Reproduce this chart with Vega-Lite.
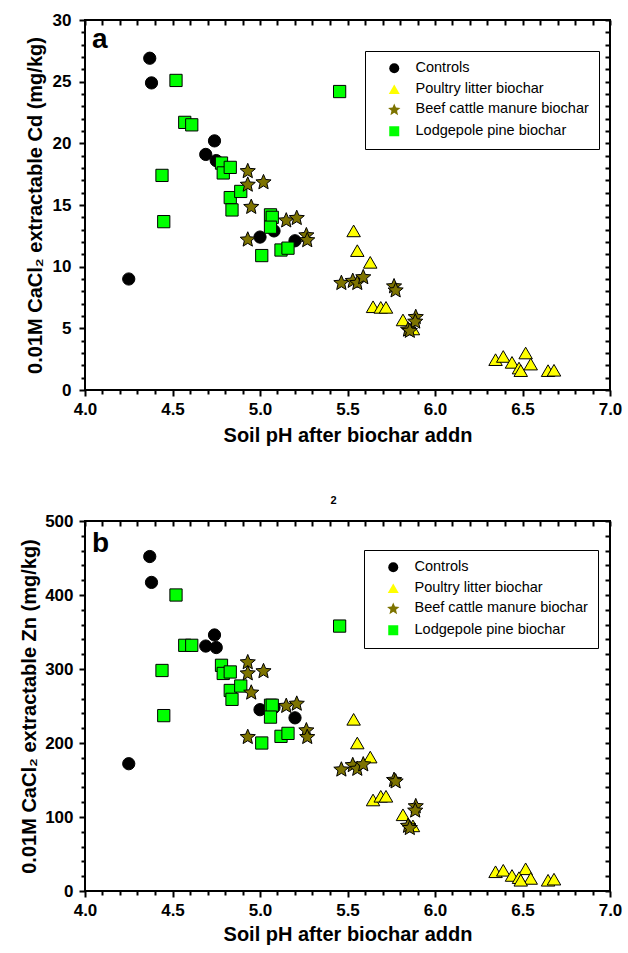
{
  "$schema": "https://vega.github.io/schema/vega-lite/v6.json",
  "padding": {"left": 18, "top": 10, "right": 10, "bottom": 3},
  "background": "white",
  "config": {
    "view": {"stroke": "black", "strokeWidth": 2},
    "font": "Liberation Sans",
    "axis": {"grid": false, "domain": false, "ticks": true, "tickOpacity": 1, "tickColor": "#000000", "labelColor": "black", "titleColor": "black", "labelFont": "Liberation Sans", "titleFont": "Liberation Sans", "labelFontWeight": "bold", "titleFontWeight": "bold", "labelFontSize": 17, "titleFontSize": 20, "labelOverlap": false, "labelFlush": false},
    "legend": {"title": null, "orient": "none", "strokeColor": "black", "fillColor": "white", "padding": 10, "symbolOffset": 12, "labelOffset": 14, "labelFontSize": 14.5, "labelFont": "Liberation Sans", "labelColor": "black", "labelLimit": 400, "rowPadding": 5, "symbolStrokeColor": "black", "symbolStrokeWidth": 1, "symbolOpacity": 1}
  },
  "data": {"values": [
    {"series": "Controls", "pH": 4.37, "Cd": 26.9, "Zn": 452},
    {"series": "Controls", "pH": 4.38, "Cd": 24.9, "Zn": 417},
    {"series": "Controls", "pH": 4.25, "Cd": 9.0, "Zn": 172},
    {"series": "Controls", "pH": 4.74, "Cd": 20.2, "Zn": 346},
    {"series": "Controls", "pH": 4.69, "Cd": 19.1, "Zn": 331},
    {"series": "Controls", "pH": 4.75, "Cd": 18.6, "Zn": 329},
    {"series": "Controls", "pH": 5.0, "Cd": 12.4, "Zn": 245},
    {"series": "Controls", "pH": 5.08, "Cd": 12.9, "Zn": 248},
    {"series": "Controls", "pH": 5.2, "Cd": 12.1, "Zn": 234},
    {"series": "Lodgepole pine biochar", "pH": 4.52, "Cd": 25.1, "Zn": 400},
    {"series": "Lodgepole pine biochar", "pH": 4.57, "Cd": 21.7, "Zn": 332},
    {"series": "Lodgepole pine biochar", "pH": 4.61, "Cd": 21.5, "Zn": 332},
    {"series": "Lodgepole pine biochar", "pH": 4.44, "Cd": 17.4, "Zn": 298},
    {"series": "Lodgepole pine biochar", "pH": 4.45, "Cd": 13.65, "Zn": 237},
    {"series": "Lodgepole pine biochar", "pH": 4.78, "Cd": 18.4, "Zn": 305},
    {"series": "Lodgepole pine biochar", "pH": 4.79, "Cd": 17.6, "Zn": 294},
    {"series": "Lodgepole pine biochar", "pH": 4.83, "Cd": 18.05, "Zn": 296},
    {"series": "Lodgepole pine biochar", "pH": 4.83, "Cd": 15.6, "Zn": 271},
    {"series": "Lodgepole pine biochar", "pH": 4.84, "Cd": 14.6, "Zn": 259},
    {"series": "Lodgepole pine biochar", "pH": 4.89, "Cd": 16.1, "Zn": 277},
    {"series": "Lodgepole pine biochar", "pH": 5.06, "Cd": 14.2, "Zn": 251},
    {"series": "Lodgepole pine biochar", "pH": 5.07, "Cd": 14.0, "Zn": 251},
    {"series": "Lodgepole pine biochar", "pH": 5.06, "Cd": 13.2, "Zn": 235},
    {"series": "Lodgepole pine biochar", "pH": 5.01, "Cd": 10.9, "Zn": 200},
    {"series": "Lodgepole pine biochar", "pH": 5.12, "Cd": 11.35, "Zn": 209},
    {"series": "Lodgepole pine biochar", "pH": 5.16, "Cd": 11.5, "Zn": 213},
    {"series": "Lodgepole pine biochar", "pH": 5.455, "Cd": 24.2, "Zn": 358},
    {"series": "Poultry litter biochar", "pH": 5.535, "Cd": 12.9, "Zn": 232},
    {"series": "Poultry litter biochar", "pH": 5.556, "Cd": 11.3, "Zn": 200},
    {"series": "Poultry litter biochar", "pH": 5.63, "Cd": 10.35, "Zn": 181},
    {"series": "Poultry litter biochar", "pH": 5.646, "Cd": 6.75, "Zn": 123},
    {"series": "Poultry litter biochar", "pH": 5.69, "Cd": 6.7, "Zn": 128},
    {"series": "Poultry litter biochar", "pH": 5.72, "Cd": 6.7, "Zn": 128},
    {"series": "Poultry litter biochar", "pH": 5.817, "Cd": 5.68, "Zn": 103},
    {"series": "Poultry litter biochar", "pH": 5.874, "Cd": 4.95, "Zn": 88},
    {"series": "Poultry litter biochar", "pH": 6.346, "Cd": 2.46, "Zn": 26},
    {"series": "Poultry litter biochar", "pH": 6.39, "Cd": 2.72, "Zn": 28},
    {"series": "Poultry litter biochar", "pH": 6.44, "Cd": 2.24, "Zn": 21},
    {"series": "Poultry litter biochar", "pH": 6.518, "Cd": 3.0, "Zn": 30},
    {"series": "Poultry litter biochar", "pH": 6.547, "Cd": 2.1, "Zn": 17},
    {"series": "Poultry litter biochar", "pH": 6.48, "Cd": 1.78, "Zn": 18},
    {"series": "Poultry litter biochar", "pH": 6.49, "Cd": 1.57, "Zn": 14.5},
    {"series": "Poultry litter biochar", "pH": 6.646, "Cd": 1.57, "Zn": 14.5},
    {"series": "Poultry litter biochar", "pH": 6.68, "Cd": 1.6, "Zn": 16},
    {"series": "Beef cattle manure biochar", "pH": 4.93, "Cd": 17.8, "Zn": 310},
    {"series": "Beef cattle manure biochar", "pH": 4.93, "Cd": 16.7, "Zn": 295},
    {"series": "Beef cattle manure biochar", "pH": 5.02, "Cd": 16.9, "Zn": 298},
    {"series": "Beef cattle manure biochar", "pH": 4.95, "Cd": 14.9, "Zn": 269},
    {"series": "Beef cattle manure biochar", "pH": 4.93, "Cd": 12.25, "Zn": 209},
    {"series": "Beef cattle manure biochar", "pH": 5.15, "Cd": 13.8, "Zn": 251},
    {"series": "Beef cattle manure biochar", "pH": 5.21, "Cd": 14.0, "Zn": 254},
    {"series": "Beef cattle manure biochar", "pH": 5.265, "Cd": 12.6, "Zn": 218},
    {"series": "Beef cattle manure biochar", "pH": 5.27, "Cd": 12.2, "Zn": 209},
    {"series": "Beef cattle manure biochar", "pH": 5.465, "Cd": 8.73, "Zn": 165},
    {"series": "Beef cattle manure biochar", "pH": 5.53, "Cd": 8.9, "Zn": 171},
    {"series": "Beef cattle manure biochar", "pH": 5.556, "Cd": 8.73, "Zn": 166},
    {"series": "Beef cattle manure biochar", "pH": 5.59, "Cd": 9.2, "Zn": 172},
    {"series": "Beef cattle manure biochar", "pH": 5.766, "Cd": 8.46, "Zn": 151},
    {"series": "Beef cattle manure biochar", "pH": 5.775, "Cd": 8.13, "Zn": 149},
    {"series": "Beef cattle manure biochar", "pH": 5.89, "Cd": 5.97, "Zn": 115.5},
    {"series": "Beef cattle manure biochar", "pH": 5.887, "Cd": 5.6, "Zn": 109.6},
    {"series": "Beef cattle manure biochar", "pH": 5.846, "Cd": 4.95, "Zn": 89},
    {"series": "Beef cattle manure biochar", "pH": 5.856, "Cd": 4.85, "Zn": 86}
  ]},
  "spacing": 48,
  "vconcat": [
    {
      "width": 525, "height": 370,
      "layer": [
        {
          "mark": {"type": "point", "filled": true, "stroke": "black", "strokeWidth": 1, "opacity": 1, "size": 150},
          "encoding": {
            "x": {"field": "pH", "type": "quantitative", "scale": {"domain": [4, 7], "nice": false, "zero": false},
              "axis": {"orient": "bottom", "values": [4, 4.5, 5, 5.5, 6, 6.5, 7], "format": ".1f", "tickSize": 6, "tickWidth": 2, "labelPadding": 5, "title": "Soil pH after biochar addn", "titlePadding": 8}},
            "y": {"field": "Cd", "type": "quantitative", "scale": {"domain": [0, 30], "nice": false, "zero": false},
              "axis": {"orient": "left", "values": [0, 5, 10, 15, 20, 25, 30], "tickSize": 6, "tickWidth": 2, "labelPadding": 8, "title": "0.01M CaCl₂ extractable Cd (mg/kg)", "titlePadding": 7}},
            "shape": {"field": "series", "type": "nominal",
              "scale": {"domain": ["Controls", "Poultry litter biochar", "Beef cattle manure biochar", "Lodgepole pine biochar"], "range": ["circle", "M0,-0.95L1.1,0.95L-1.1,0.95Z", "M0,-1.17L0.345,-0.343L1.236,-0.272L0.556,0.311L0.764,1.182L0,0.715L-0.764,1.182L-0.556,0.311L-1.236,-0.272L-0.345,-0.343Z", "square"]},
              "legend": {"legendX": 280, "legendY": 31}},
            "fill": {"field": "series", "type": "nominal",
              "scale": {"domain": ["Controls", "Poultry litter biochar", "Beef cattle manure biochar", "Lodgepole pine biochar"], "range": ["#000000", "#ffff00", "#7d7300", "#00ff00"]},
              "legend": {"legendX": 280, "legendY": 31}}
          }
        },
        {
          "mark": {"type": "point", "opacity": 0},
          "encoding": {
            "x": {"field": "pH", "type": "quantitative", "scale": {"domain": [4, 7], "nice": false, "zero": false},
              "axis": {"orient": "bottom", "values": [4.1, 4.2, 4.3, 4.4, 4.6, 4.7, 4.8, 4.9, 5.1, 5.2, 5.3, 5.4, 5.6, 5.7, 5.8, 5.9, 6.1, 6.2, 6.3, 6.4, 6.6, 6.7, 6.8, 6.9], "labels": false, "tickSize": 4, "tickWidth": 2, "title": null}},
            "y": {"field": "Cd", "type": "quantitative", "scale": {"domain": [0, 30], "nice": false, "zero": false},
              "axis": {"orient": "left", "values": [1, 2, 3, 4, 6, 7, 8, 9, 11, 12, 13, 14, 16, 17, 18, 19, 21, 22, 23, 24, 26, 27, 28, 29], "labels": false, "tickSize": 4, "tickWidth": 2, "title": null}}
          }
        },
        {
          "mark": {"type": "point", "opacity": 0},
          "encoding": {
            "x": {"field": "pH", "type": "quantitative", "scale": {"domain": [4, 7], "nice": false, "zero": false},
              "axis": {"orient": "top", "values": [4, 4.1, 4.2, 4.3, 4.4, 4.5, 4.6, 4.7, 4.8, 4.9, 5, 5.1, 5.2, 5.3, 5.4, 5.5, 5.6, 5.7, 5.8, 5.9, 6, 6.1, 6.2, 6.3, 6.4, 6.5, 6.6, 6.7, 6.8, 6.9, 7], "labels": false, "tickSize": 5, "offset": -5, "tickWidth": 2, "title": null}},
            "y": {"field": "Cd", "type": "quantitative", "scale": {"domain": [0, 30], "nice": false, "zero": false},
              "axis": {"orient": "right", "values": [0, 1, 2, 3, 4, 5, 6, 7, 8, 9, 10, 11, 12, 13, 14, 15, 16, 17, 18, 19, 20, 21, 22, 23, 24, 25, 26, 27, 28, 29, 30], "labels": false, "tickSize": 5, "offset": -5, "tickWidth": 2, "title": null}}
          }
        },
        {
          "data": {"values": [{"panel": "a"}]},
          "mark": {"type": "text", "align": "left", "baseline": "alphabetic", "fontSize": 28, "fontWeight": "bold", "font": "Liberation Sans", "color": "black"},
          "encoding": {
            "x": {"datum": 4.04, "type": "quantitative", "axis": null},
            "y": {"datum": 27.7, "type": "quantitative", "axis": null},
            "text": {"field": "panel"}
          }
        }
      ],
      "resolve": {"axis": {"x": "independent", "y": "independent"}}
    },
    {
      "width": 525, "height": 370,
      "title": {"text": "2", "fontSize": 11, "fontWeight": "bold", "font": "Liberation Sans", "color": "black", "frame": "group", "anchor": "middle", "dx": -14, "offset": 6},
      "layer": [
        {
          "mark": {"type": "point", "filled": true, "stroke": "black", "strokeWidth": 1, "opacity": 1, "size": 150},
          "encoding": {
            "x": {"field": "pH", "type": "quantitative", "scale": {"domain": [4, 7], "nice": false, "zero": false},
              "axis": {"orient": "bottom", "values": [4, 4.5, 5, 5.5, 6, 6.5, 7], "format": ".1f", "tickSize": 6, "tickWidth": 2, "labelPadding": 5, "title": "Soil pH after biochar addn", "titlePadding": 6}},
            "y": {"field": "Zn", "type": "quantitative", "scale": {"domain": [0, 500], "nice": false, "zero": false},
              "axis": {"orient": "left", "values": [0, 100, 200, 300, 400, 500], "tickSize": 6, "tickWidth": 2, "labelPadding": 6, "title": "0.01M CaCl₂ extractable Zn (mg/kg)", "titlePadding": 5}},
            "shape": {"field": "series", "type": "nominal",
              "scale": {"domain": ["Controls", "Poultry litter biochar", "Beef cattle manure biochar", "Lodgepole pine biochar"], "range": ["circle", "M0,-0.95L1.1,0.95L-1.1,0.95Z", "M0,-1.17L0.345,-0.343L1.236,-0.272L0.556,0.311L0.764,1.182L0,0.715L-0.764,1.182L-0.556,0.311L-1.236,-0.272L-0.345,-0.343Z", "square"]},
              "legend": {"legendX": 279, "legendY": 29}},
            "fill": {"field": "series", "type": "nominal",
              "scale": {"domain": ["Controls", "Poultry litter biochar", "Beef cattle manure biochar", "Lodgepole pine biochar"], "range": ["#000000", "#ffff00", "#7d7300", "#00ff00"]},
              "legend": {"legendX": 279, "legendY": 29}}
          }
        },
        {
          "mark": {"type": "point", "opacity": 0},
          "encoding": {
            "x": {"field": "pH", "type": "quantitative", "scale": {"domain": [4, 7], "nice": false, "zero": false},
              "axis": {"orient": "bottom", "values": [4.1, 4.2, 4.3, 4.4, 4.6, 4.7, 4.8, 4.9, 5.1, 5.2, 5.3, 5.4, 5.6, 5.7, 5.8, 5.9, 6.1, 6.2, 6.3, 6.4, 6.6, 6.7, 6.8, 6.9], "labels": false, "tickSize": 4, "tickWidth": 2, "title": null}},
            "y": {"field": "Zn", "type": "quantitative", "scale": {"domain": [0, 500], "nice": false, "zero": false},
              "axis": {"orient": "left", "values": [20, 40, 60, 80, 120, 140, 160, 180, 220, 240, 260, 280, 320, 340, 360, 380, 420, 440, 460, 480], "labels": false, "tickSize": 4, "tickWidth": 2, "title": null}}
          }
        },
        {
          "mark": {"type": "point", "opacity": 0},
          "encoding": {
            "x": {"field": "pH", "type": "quantitative", "scale": {"domain": [4, 7], "nice": false, "zero": false},
              "axis": {"orient": "top", "values": [4, 4.1, 4.2, 4.3, 4.4, 4.5, 4.6, 4.7, 4.8, 4.9, 5, 5.1, 5.2, 5.3, 5.4, 5.5, 5.6, 5.7, 5.8, 5.9, 6, 6.1, 6.2, 6.3, 6.4, 6.5, 6.6, 6.7, 6.8, 6.9, 7], "labels": false, "tickSize": 5, "offset": -5, "tickWidth": 2, "title": null}},
            "y": {"field": "Zn", "type": "quantitative", "scale": {"domain": [0, 500], "nice": false, "zero": false},
              "axis": {"orient": "right", "values": [0, 20, 40, 60, 80, 100, 120, 140, 160, 180, 200, 220, 240, 260, 280, 300, 320, 340, 360, 380, 400, 420, 440, 460, 480, 500], "labels": false, "tickSize": 5, "offset": -5, "tickWidth": 2, "title": null}}
          }
        },
        {
          "data": {"values": [{"panel": "b"}]},
          "mark": {"type": "text", "align": "left", "baseline": "alphabetic", "fontSize": 28, "fontWeight": "bold", "font": "Liberation Sans", "color": "black"},
          "encoding": {
            "x": {"datum": 4.04, "type": "quantitative", "axis": null},
            "y": {"datum": 458, "type": "quantitative", "axis": null},
            "text": {"field": "panel"}
          }
        }
      ],
      "resolve": {"axis": {"x": "independent", "y": "independent"}}
    }
  ],
  "resolve": {"scale": {"shape": "independent", "fill": "independent"}}
}
